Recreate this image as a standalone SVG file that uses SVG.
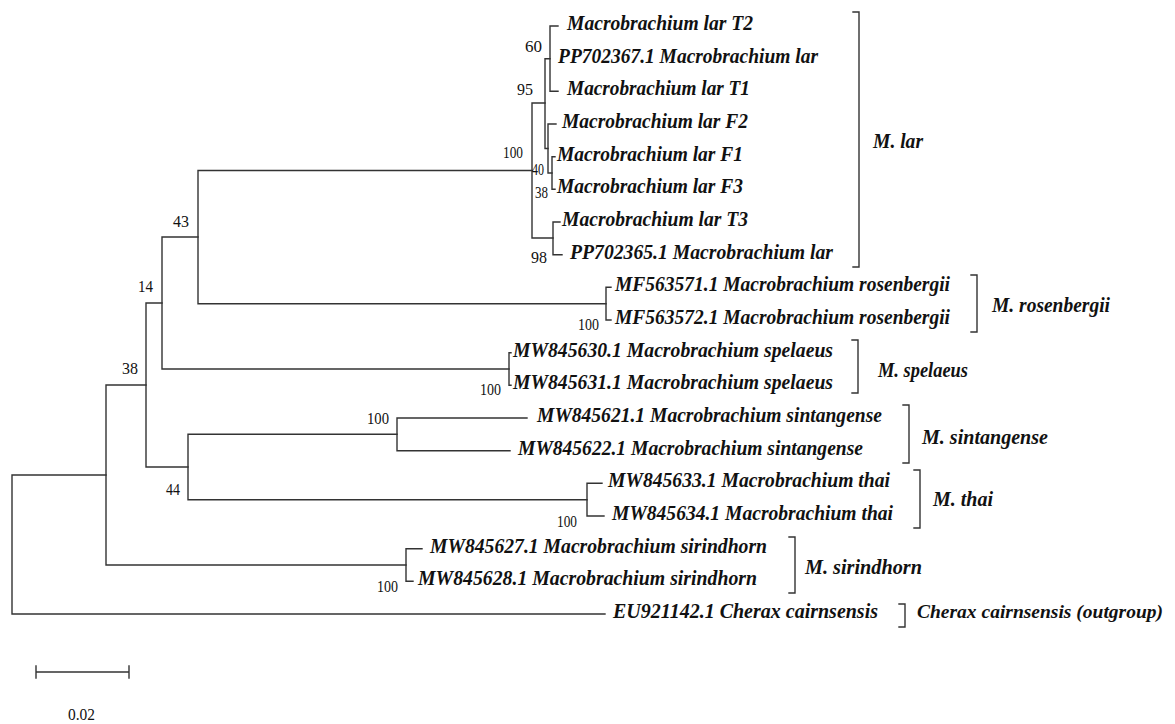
<svg xmlns="http://www.w3.org/2000/svg" width="1175" height="724" viewBox="0 0 1175 724">
<style>
.br{fill:none;stroke:#333;stroke-width:1.4;stroke-linecap:square}
.tip{font-family:"Liberation Serif",serif;font-weight:bold;font-style:italic;font-size:21px;fill:#111}
.grp{font-family:"Liberation Serif",serif;font-weight:bold;font-style:italic;font-size:21px;fill:#111}
.out{font-family:"Liberation Serif",serif;font-weight:bold;font-style:italic;font-size:19px;fill:#111}
.bs{font-family:"Liberation Serif",serif;font-size:17px;fill:#111}
</style>
<rect width="1175" height="724" fill="#fff"/>
<g id="connectors" class="br">
<path d="M12,475V614M12,475H106M12,614H605"/>
<path d="M106,385V565M106,385H146M106,565H406"/>
<path d="M146,303V467M146,303H162M146,467H188"/>
<path d="M162,237V369M162,237H198M162,369H509"/>
<path d="M198,170.5V303.7M198,170.5H532M198,303.7H606"/>
<path d="M532,103V238M532,103H545M532,238H553"/>
<path d="M545,58.7V148.5M545,58.7H550M545,148.5H548"/>
<path d="M550,26V91.3M550,26H558M550,91.3H558"/>
<path d="M548,124V173M548,124H556M548,173H552"/>
<path d="M552,156.7V189.3M552,156.7H555M552,189.3H555"/>
<path d="M553,222V254.7M553,222H560M553,254.7H562"/>
<path d="M606,287.3V320M606,287.3H611M606,320H611"/>
<path d="M509,352.7V385.3M509,352.7H511M509,385.3H511"/>
<path d="M188,434.3V499.7M188,434.3H397M188,499.7H587"/>
<path d="M397,418V450.7M397,418H527M397,450.7H510"/>
<path d="M587,483.3V516M587,483.3H602M587,516H604"/>
<path d="M406,548.7V581.3M406,548.7H422M406,581.3H413"/>
<path d="M36,672H129M36,666V678M129,666V678"/>
</g>
<g id="brackets" class="br">
<path d="M853,12H859V267H853"/>
<path d="M971,275H977V332H971"/>
<path d="M852,340H858V393H852"/>
<path d="M903,405H909V463H903"/>
<path d="M914,470H920V528H914"/>
<path d="M789,537H795V593H789"/>
<path d="M899,604H905V627H899"/>
</g>
<g id="tips">
<g id="t-T2"><text class="tip" x="567" y="30" textLength="186" lengthAdjust="spacingAndGlyphs">Macrobrachium lar T2</text></g>
<g id="t-PP702367"><text class="tip" x="558" y="62.7" textLength="260" lengthAdjust="spacingAndGlyphs">PP702367.1 Macrobrachium lar</text></g>
<g id="t-T1"><text class="tip" x="567" y="95.3" textLength="183" lengthAdjust="spacingAndGlyphs">Macrobrachium lar T1</text></g>
<g id="t-F2"><text class="tip" x="562" y="128" textLength="186" lengthAdjust="spacingAndGlyphs">Macrobrachium lar F2</text></g>
<g id="t-F1"><text class="tip" x="557" y="160.7" textLength="186" lengthAdjust="spacingAndGlyphs">Macrobrachium lar F1</text></g>
<g id="t-F3"><text class="tip" x="557" y="193.3" textLength="186" lengthAdjust="spacingAndGlyphs">Macrobrachium lar F3</text></g>
<g id="t-T3"><text class="tip" x="562" y="226" textLength="186" lengthAdjust="spacingAndGlyphs">Macrobrachium lar T3</text></g>
<g id="t-PP702365"><text class="tip" x="570" y="258.7" textLength="263" lengthAdjust="spacingAndGlyphs">PP702365.1 Macrobrachium lar</text></g>
<g id="t-MF563571"><text class="tip" x="615" y="291.3" textLength="335" lengthAdjust="spacingAndGlyphs">MF563571.1 Macrobrachium rosenbergii</text></g>
<g id="t-MF563572"><text class="tip" x="615" y="324" textLength="335" lengthAdjust="spacingAndGlyphs">MF563572.1 Macrobrachium rosenbergii</text></g>
<g id="t-MW845630"><text class="tip" x="513" y="356.7" textLength="320" lengthAdjust="spacingAndGlyphs">MW845630.1 Macrobrachium spelaeus</text></g>
<g id="t-MW845631"><text class="tip" x="513" y="389.3" textLength="320" lengthAdjust="spacingAndGlyphs">MW845631.1 Macrobrachium spelaeus</text></g>
<g id="t-MW845621"><text class="tip" x="537" y="422" textLength="345" lengthAdjust="spacingAndGlyphs">MW845621.1 Macrobrachium sintangense</text></g>
<g id="t-MW845622"><text class="tip" x="518" y="454.7" textLength="345" lengthAdjust="spacingAndGlyphs">MW845622.1 Macrobrachium sintangense</text></g>
<g id="t-MW845633"><text class="tip" x="608" y="487.3" textLength="282" lengthAdjust="spacingAndGlyphs">MW845633.1 Macrobrachium thai</text></g>
<g id="t-MW845634"><text class="tip" x="612" y="520" textLength="281" lengthAdjust="spacingAndGlyphs">MW845634.1 Macrobrachium thai</text></g>
<g id="t-MW845627"><text class="tip" x="430" y="552.7" textLength="337" lengthAdjust="spacingAndGlyphs">MW845627.1 Macrobrachium sirindhorn</text></g>
<g id="t-MW845628"><text class="tip" x="418" y="585.3" textLength="339" lengthAdjust="spacingAndGlyphs">MW845628.1 Macrobrachium sirindhorn</text></g>
<g id="t-EU921142"><text class="tip" x="613" y="618" textLength="265" lengthAdjust="spacingAndGlyphs">EU921142.1 Cherax cairnsensis</text></g>
</g>
<g id="groups">
<g id="g-lar"><text class="grp" x="873" y="148" textLength="50" lengthAdjust="spacingAndGlyphs">M. lar</text></g>
<g id="g-ros"><text class="grp" x="992" y="312" textLength="118" lengthAdjust="spacingAndGlyphs">M. rosenbergii</text></g>
<g id="g-spel"><text class="grp" x="878" y="377" textLength="90" lengthAdjust="spacingAndGlyphs">M. spelaeus</text></g>
<g id="g-sint"><text class="grp" x="922" y="444" textLength="126" lengthAdjust="spacingAndGlyphs">M. sintangense</text></g>
<g id="g-thai"><text class="grp" x="933" y="506" textLength="60" lengthAdjust="spacingAndGlyphs">M. thai</text></g>
<g id="g-sirin"><text class="grp" x="805" y="574" textLength="117" lengthAdjust="spacingAndGlyphs">M. sirindhorn</text></g>
<g id="g-cherax"><text class="out" x="917" y="618" textLength="246" lengthAdjust="spacingAndGlyphs">Cherax cairnsensis (outgroup)</text></g>
</g>
<g id="bootstrap">
<text class="bs" x="525" y="52" textLength="17" lengthAdjust="spacingAndGlyphs">60</text>
<text class="bs" x="517" y="95" textLength="16" lengthAdjust="spacingAndGlyphs">95</text>
<text class="bs" x="503" y="158" textLength="20" lengthAdjust="spacingAndGlyphs">100</text>
<text class="bs" x="532" y="175" textLength="12" lengthAdjust="spacingAndGlyphs">40</text>
<text class="bs" x="535" y="198" textLength="13" lengthAdjust="spacingAndGlyphs">38</text>
<text class="bs" x="531" y="263" textLength="16" lengthAdjust="spacingAndGlyphs">98</text>
<text class="bs" x="173" y="227" textLength="16" lengthAdjust="spacingAndGlyphs">43</text>
<text class="bs" x="138" y="292" textLength="15" lengthAdjust="spacingAndGlyphs">14</text>
<text class="bs" x="122" y="374" textLength="16" lengthAdjust="spacingAndGlyphs">38</text>
<text class="bs" x="166" y="495" textLength="14" lengthAdjust="spacingAndGlyphs">44</text>
<text class="bs" x="367" y="424" textLength="22" lengthAdjust="spacingAndGlyphs">100</text>
<text class="bs" x="578" y="330" textLength="21" lengthAdjust="spacingAndGlyphs">100</text>
<text class="bs" x="480" y="395" textLength="21" lengthAdjust="spacingAndGlyphs">100</text>
<text class="bs" x="557" y="527" textLength="20" lengthAdjust="spacingAndGlyphs">100</text>
<text class="bs" x="377" y="592" textLength="21" lengthAdjust="spacingAndGlyphs">100</text>
<text class="bs" x="68" y="720" textLength="27" lengthAdjust="spacingAndGlyphs">0.02</text>
</g>
</svg>
